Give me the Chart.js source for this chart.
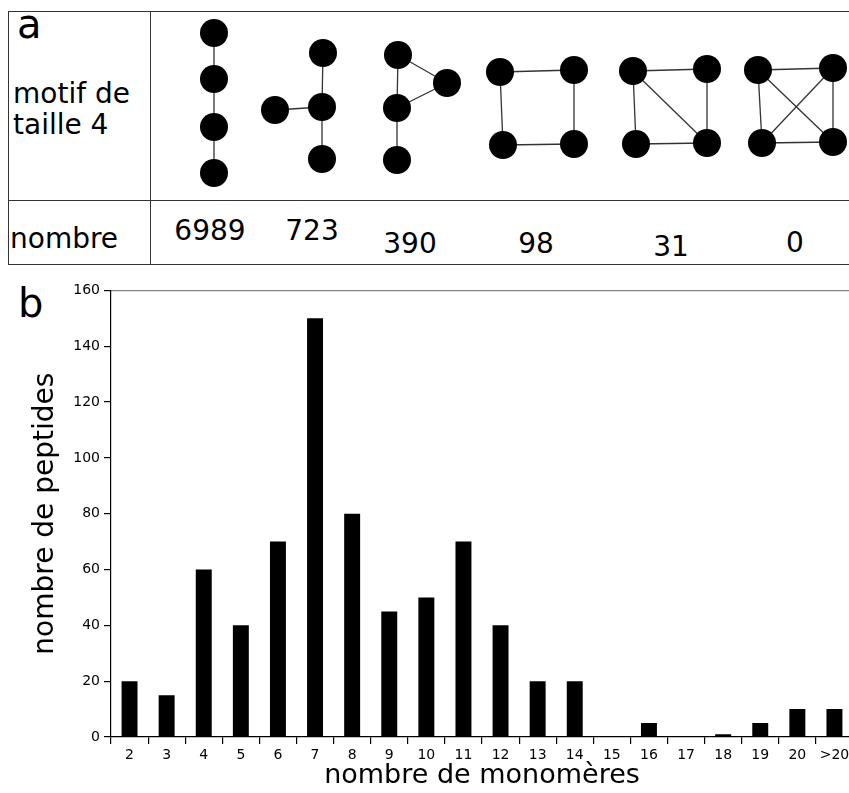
<!DOCTYPE html>
<html>
<head>
<meta charset="utf-8">
<script src="https://cdn.jsdelivr.net/npm/chart.js@4"></script>
<style>
  html, body { margin: 0; padding: 0; background: #fff; overflow: hidden; }
  body { width: 849px; height: 793px; position: relative; font-family: "DejaVu Sans", sans-serif; color: #000; }
  .txt { position: absolute; white-space: nowrap; line-height: 1; }
  .hl { position: absolute; height: 0; border-top: 1.3px solid #333; }
  .vl { position: absolute; width: 0; border-left: 1.3px solid #333; }
  #motifs { position: absolute; left: 0; top: 0; }
  #bars { position: absolute; left: 0; top: 278px; }
</style>
</head>
<body>
<div class="hl" style="left:8px; top:11px; width:841px;"></div>
<div class="hl" style="left:8px; top:200px; width:841px;"></div>
<div class="hl" style="left:8px; top:264px; width:841px;"></div>
<div class="vl" style="left:8px; top:11px; height:253px;"></div>
<div class="vl" style="left:150px; top:11px; height:253px;"></div>

<div class="txt" style="left:17px; top:4px; font-size:40px;">a</div>
<div class="txt" style="left:13px; top:80px; font-size:28px;">motif de</div>
<div class="txt" style="left:13px; top:111px; font-size:28px;">taille 4</div>
<div class="txt" style="left:10px; top:225px; font-size:28px;">nombre</div>
<div id="counts"></div>
<div class="txt" style="left:18px; top:283px; font-size:40px;">b</div>

<canvas id="motifs" width="849" height="200"></canvas>
<canvas id="bars" width="853" height="515"></canvas>

<script>
// panel a : motifs de taille 4 (positions des noeuds) et nombre d'occurrences
const motifNodes = [
  [[214, 33], [214, 79], [214, 127], [214, 173]],
  [[323, 53], [322, 107], [322, 159], [275, 110]],
  [[398, 55], [397, 108], [397, 160], [447, 83]],
  [[500, 72], [574, 70], [503, 145], [574, 144]],
  [[633, 71], [707, 69], [636, 144], [707, 143]],
  [[758, 70], [833, 68], [762, 143], [833, 142]]
];
const motifEdges = [
  [[0, 1], [1, 2], [2, 3]],
  [[0, 1], [1, 2], [1, 3]],
  [[0, 1], [1, 2], [0, 3], [1, 3]],
  [[0, 1], [1, 3], [3, 2], [2, 0]],
  [[0, 1], [1, 3], [3, 2], [2, 0], [0, 3]],
  [[0, 1], [1, 3], [3, 2], [2, 0], [0, 3], [1, 2]]
];
const motifCounts = ['6989', '723', '390', '98', '31', '0'];
const countX = [210, 312, 410, 536, 671, 795];
const countY = [217, 217, 230, 230, 233, 229];

// panel b : distribution du nombre de monomeres
const sizeLabels = ['2','3','4','5','6','7','8','9','10','11','12','13','14','15','16','17','18','19','20','>20'];
const peptideCounts = [20, 15, 60, 40, 70, 150, 80, 45, 50, 70, 40, 20, 20, 0, 5, 0, 1, 5, 10, 10];
const yTicks = [0, 20, 40, 60, 80, 100, 120, 140, 160];

Chart.defaults.font.family = '"DejaVu Sans", sans-serif';
Chart.defaults.color = '#000';
Chart.defaults.animation = false;

document.getElementById('counts').innerHTML = motifCounts.map((c, i) =>
  `<div class="txt" style="left:${countX[i]}px; top:${countY[i]}px; font-size:28px; transform:translateX(-50%)">${c}</div>`
).join('');

const motifSets = [];
motifNodes.forEach((nodes, m) => {
  motifEdges[m].forEach(([a, b]) => {
    motifSets.push({
      data: [{ x: nodes[a][0], y: nodes[a][1] }, { x: nodes[b][0], y: nodes[b][1] }],
      showLine: true, borderColor: '#333', borderWidth: 1.3, pointRadius: 0, order: 1
    });
  });
});
motifSets.unshift({
  data: motifNodes.flat().map(([x, y]) => ({ x, y })),
  pointRadius: 14, pointHoverRadius: 14, backgroundColor: '#000', borderColor: '#000', borderWidth: 0, order: 0
});

new Chart(document.getElementById('motifs'), {
  type: 'scatter',
  data: { datasets: motifSets },
  options: {
    responsive: false,
    layout: { padding: 0, autoPadding: false },
    plugins: { legend: { display: false }, tooltip: { enabled: false } },
    clip: false,
    scales: {
      x: { type: 'linear', min: 0, max: 849, display: false },
      y: { type: 'linear', min: 0, max: 200, reverse: true, display: false }
    }
  }
});

new Chart(document.getElementById('bars'), {
  type: 'bar',
  data: {
    labels: sizeLabels,
    datasets: [{ data: peptideCounts, backgroundColor: '#000', categoryPercentage: 1, barPercentage: 0.43 }]
  },
  options: {
    responsive: false,
    layout: { padding: { top: 8, right: 0, left: 0, bottom: 0 } },
    plugins: { legend: { display: false }, tooltip: { enabled: false } },
    scales: {
      x: {
        offset: true,
        grid: { display: true, drawOnChartArea: false, offset: true, tickLength: 7, color: '#000', lineWidth: 1.2 },
        border: { display: true, color: '#000', width: 1.2 },
        ticks: { font: { size: 14 }, padding: 3, maxRotation: 0, autoSkip: false },
        title: { display: true, text: 'nombre de monomères', font: { size: 27 }, padding: { top: 0, bottom: 1 } },
        afterFit: s => { s.height = 56; }
      },
      xTop: {
        position: 'top',
        grid: { display: false },
        border: { display: true, color: '#888', width: 1.3 },
        ticks: { display: false },
        afterFit: s => { s.height = 0; }
      },
      y: {
        min: 0, max: 160,
        afterBuildTicks: s => { s.ticks = yTicks.map(v => ({ value: v })); },
        grid: { display: true, drawOnChartArea: false, tickLength: 7, color: '#000', lineWidth: 1.2 },
        border: { display: true, color: '#000', width: 1.2 },
        ticks: { font: { size: 14 }, padding: 4 },
        title: { display: true, text: 'nombre de peptides', font: { size: 28 }, padding: { top: 29, bottom: 0 } },
        afterFit: s => { s.width = 111; }
      }
    }
  }
});
</script>
</body>
</html>
